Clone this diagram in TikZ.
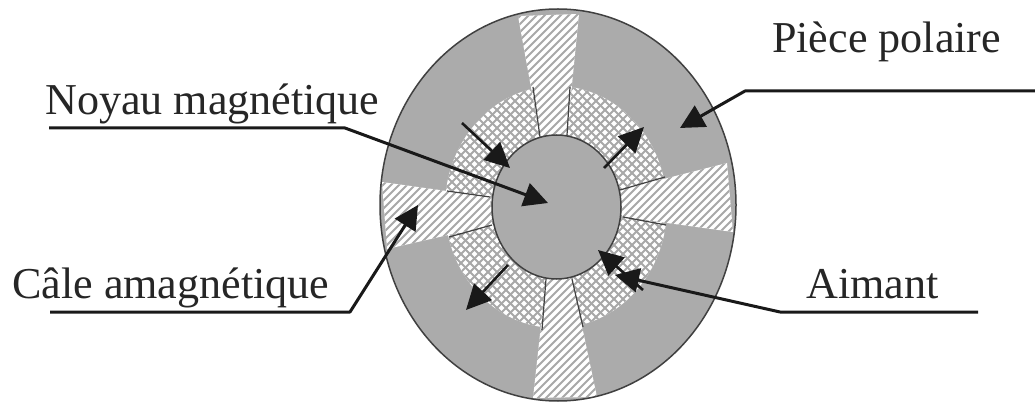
\documentclass[tikz,border=0pt]{standalone}
\usepackage{fontspec}
\setmainfont{Liberation Serif}
\usetikzlibrary{arrows.meta,shapes.geometric}
\definecolor{polegray}{HTML}{ABABAB}
\definecolor{hatchgray}{HTML}{A8A8A8}
\newcommand\slashlines{\foreach \s in {360,368,...,1180} {\draw[hatchline] (\s,0)--(\s-403,403);}}
\newcommand\crosslines{%
  \foreach \s in {400,409,...,1100} {\draw[crossline] (\s,0)--(\s-403,403);}%
  \foreach \s in {0,9,...,720} {\draw[crossline] (\s,0)--(\s+403,403);}}
\newcommand\slotA{(518,16)--(579,14)--(567,135)--(540,137)--cycle}
\newcommand\slotB{(727,163)--(733,232)--(623,217)--(620,190)--cycle}
\newcommand\slotC{(382,182)--(387,249)--(492,225)--(490,197)--cycle}
\newcommand\slotD{(533,398)--(597,397)--(572,279)--(546,279)--cycle}
\tikzset{
  x=1pt,y=-1pt,
  label text/.style={inner sep=0pt,anchor=base west,font=\fontsize{44.1}{44.1}\selectfont,text=black!85},
  leader/.style={line width=3pt,draw=black!90,line join=round,-{Triangle[length=24pt,width=24pt]}},
  fluxarrow/.style={line width=2.6pt,draw=black!90,-{Triangle[length=25pt,width=24pt]}},
  outline/.style={draw=black!75,line width=1.5pt},
  hatchline/.style={draw=hatchgray,line width=1.8pt},
  crossline/.style={draw=hatchgray,line width=1.9pt},
}
\begin{document}
\begin{tikzpicture}
\useasboundingbox (0,0) rectangle (1035,403);
\fill[white] (0,0) rectangle (1035,403);
% body
\fill[polegray] (558,205) ellipse [x radius=178,y radius=196];
% magnet ring
\fill[white] (556,207) ellipse [x radius=111,y radius=121];
\begin{scope}
  \clip (556,207) ellipse [x radius=111,y radius=121];
  \crosslines
\end{scope}
% slots
\begin{scope}
  \clip (558,205) ellipse [x radius=178,y radius=196];
  \fill[white] \slotA; \fill[white] \slotB; \fill[white] \slotC; \fill[white] \slotD;
  \begin{scope}
    \clip \slotA; \slashlines
  \end{scope}
  \begin{scope}
    \clip \slotB; \slashlines
  \end{scope}
  \begin{scope}
    \clip \slotC; \slashlines
  \end{scope}
  \begin{scope}
    \clip \slotD; \slashlines
  \end{scope}
\end{scope}
% slot edges in the ring
\draw[outline,line width=1.2pt] (533,87)--(540,137) (570,87)--(567,135)
  (665,177)--(620,190) (666,225)--(623,217)
  (447,191)--(490,197) (449,237)--(492,225)
  (542,330)--(546,279) (583,327)--(572,279);
% core
\node[outline,fill=polegray,ellipse,minimum width=129pt,minimum height=144pt,inner sep=0pt] (core) at (556.5,207) {};
% outer contour
\draw[outline] (558,205) ellipse [x radius=178,y radius=196];
% labels
\node[label text] (noyau) at (45,115) {Noyau magnétique};
\node[label text] (piece) at (772,53) {Pièce polaire};
\node[label text] (cale) at (12,298) {Câle amagnétique};
\node[label text] (aimant) at (806,298) {Aimant};
% leaders
\coordinate (n0) at (49,128); \coordinate (n1) at (345,128); \coordinate (n2) at (548,203);
\coordinate (p0) at (1035,91); \coordinate (p1) at (745,91); \coordinate (p2) at (680,128);
\coordinate (c0) at (50,312); \coordinate (c1) at (350,312); \coordinate (c2) at (418,205);
\coordinate (a0) at (978,312); \coordinate (a1) at (780,312); \coordinate (a2) at (615,275);
\draw[leader] (n0)--(n1)--(n2);
\draw[leader] (p0)--(p1)--(p2);
\draw[leader] (c0)--(c1)--(c2);
\draw[leader] (a0)--(a1)--(a2);
% flux arrows
\coordinate (f1a) at (462,123); \coordinate (f1b) at (510,168);
\coordinate (f2a) at (604,168); \coordinate (f2b) at (644,127);
\coordinate (f3a) at (508,265); \coordinate (f3b) at (466,310);
\coordinate (f4a) at (643,290); \coordinate (f4b) at (598,250);
\draw[fluxarrow] (f1a)--(f1b);
\draw[fluxarrow] (f2a)--(f2b);
\draw[fluxarrow] (f3a)--(f3b);
\draw[fluxarrow] (f4a)--(f4b);
\end{tikzpicture}
\end{document}
